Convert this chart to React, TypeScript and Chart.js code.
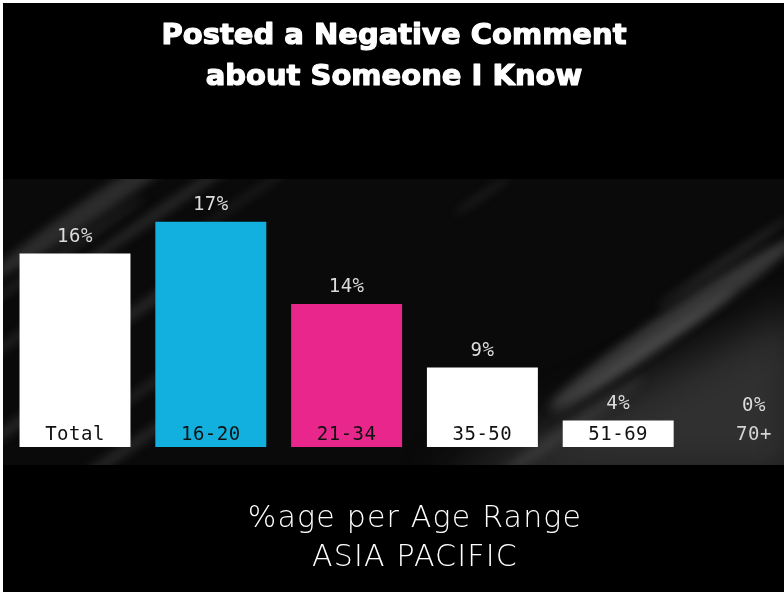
import { useEffect, useRef } from "react";
import { Chart, registerables } from "chart.js";

Chart.register(...registerables);

// age groups along the x axis
const ageGroups = ["Total", "16-20", "21-34", "35-50", "51-69", "70+"];
// share that posted a negative comment (printed above each bar)
const shares = [16, 17, 14, 9, 4, 0];
// bar heights as drawn in the graphic (it is not to scale), in % units
const barHeights = [14.6, 17, 10.8, 6.0, 2.0, 0];
const barColors = ["#ffffff", "#12b0de", "#e8268b", "#ffffff", "#ffffff", "#ffffff"];

const titleLines = ["Posted a Negative Comment", "about Someone I Know"];
const subtitleLines = ["%age per Age Range", "ASIA PACIFIC"];

const W = 781;
const H = 589;
const PANEL_TOP = 176;
const PANEL_BOTTOM = 462;

// decorative brush streaks of the backdrop: [cx, cy, length, thickness, alpha]
const streaks: number[][] = [
  [90, 205, 260, 22, 0.35],
  [170, 200, 300, 10, 0.3],
  [60, 250, 200, 8, 0.25],
  [20, 330, 160, 8, 0.25],
  [15, 420, 150, 10, 0.3],
  [145, 300, 170, 10, 0.3],
  [150, 380, 140, 8, 0.25],
  [110, 455, 220, 10, 0.3],
  [250, 190, 160, 6, 0.2],
  [480, 192, 70, 5, 0.25],
  [670, 320, 300, 26, 0.45],
  [640, 350, 220, 10, 0.35],
  [720, 260, 160, 8, 0.3],
  [560, 430, 200, 12, 0.25],
];

const backdropPlugin = {
  id: "backdrop",
  beforeDraw(chart: any) {
    const { ctx } = chart;
    ctx.save();
    ctx.fillStyle = "#000000";
    ctx.fillRect(0, 0, W, H);
    ctx.beginPath();
    ctx.rect(0, PANEL_TOP, W, PANEL_BOTTOM - PANEL_TOP);
    ctx.clip();
    ctx.fillStyle = "#0a0a0a";
    ctx.fillRect(0, PANEL_TOP, W, PANEL_BOTTOM - PANEL_TOP);

    // lighter haze in the lower right
    ctx.filter = "blur(22px)";
    ctx.fillStyle = "rgba(52,52,52,0.9)";
    ctx.beginPath();
    ctx.moveTo(430, 480);
    ctx.lineTo(800, 300);
    ctx.lineTo(800, 480);
    ctx.closePath();
    ctx.fill();

    ctx.filter = "blur(5px)";
    streaks.forEach(([cx, cy, len, th, a]) => {
      ctx.save();
      ctx.translate(cx, cy);
      ctx.rotate(-0.6);
      ctx.fillStyle = `rgba(110,110,110,${a})`;
      ctx.beginPath();
      ctx.ellipse(0, 0, len / 2, th / 2, 0, 0, Math.PI * 2);
      ctx.fill();
      ctx.restore();
    });
    ctx.restore();
  },
};

const labelPlugin = {
  id: "barLabels",
  afterDatasetsDraw(chart: any) {
    const { ctx } = chart;
    const meta = chart.getDatasetMeta(0);
    ctx.save();
    ctx.font = "19px 'DejaVu Sans Mono'";
    ctx.letterSpacing = "0.5px";
    ctx.textAlign = "center";
    ctx.textBaseline = "alphabetic";
    meta.data.forEach((bar: any, i: number) => {
      // keep the value clear of the category label when there is no bar
      const top = Math.min(bar.y, bar.base - 24);
      ctx.fillStyle = "#dcdcdc";
      ctx.fillText(`${shares[i]}%`, bar.x, top - 12);
      ctx.fillStyle = barHeights[i] > 0 ? "#111111" : "#d4d4d4";
      ctx.fillText(ageGroups[i], bar.x, bar.base - 7);
    });
    ctx.restore();
  },
  afterDraw(chart: any) {
    const { ctx } = chart;
    ctx.save();
    ctx.textAlign = "center";
    ctx.fillStyle = "#ffffff";
    ctx.strokeStyle = "#ffffff";
    ctx.lineWidth = 1.2;
    ctx.lineJoin = "round";
    ctx.font = "bold 29px 'DejaVu Sans'";
    titleLines.forEach((t, i) => {
      ctx.fillText(t, 391, 41 + i * 41);
      ctx.strokeText(t, 391, 41 + i * 41);
    });
    ctx.font = "200 30px 'DejaVu Sans'";
    ctx.letterSpacing = "1.2px";
    subtitleLines.forEach((t, i) => ctx.fillText(t, 412, 524 + i * 39));
    ctx.restore();
  },
};

export default function App() {
  const canvasRef = useRef<HTMLCanvasElement>(null);

  useEffect(() => {
    const chart = new Chart(canvasRef.current as HTMLCanvasElement, {
      type: "bar",
      data: {
        labels: ageGroups,
        datasets: [
          {
            data: barHeights,
            backgroundColor: barColors,
            borderWidth: 0,
            barPercentage: 0.817,
            categoryPercentage: 1,
            clip: false,
          } as any,
        ],
      },
      options: {
        animation: false,
        responsive: false,
        devicePixelRatio: 1,
        layout: { padding: { left: 72, right: 30, top: 179, bottom: 145 } },
        plugins: {
          legend: { display: false },
          title: { display: false },
          tooltip: { enabled: false },
        },
        scales: {
          x: { type: "category", offset: false, display: false },
          y: { min: 0, max: 20, display: false },
        },
      },
      plugins: [backdropPlugin, labelPlugin],
    });
    return () => chart.destroy();
  }, []);

  return (
    <div style={{ position: "fixed", top: 0, left: 0, width: 784, height: 592, background: "#fff" }}>
      <canvas
        ref={canvasRef}
        width={W}
        height={H}
        style={{ position: "absolute", top: 3, left: 3, width: W, height: H }}
      />
    </div>
  );
}
